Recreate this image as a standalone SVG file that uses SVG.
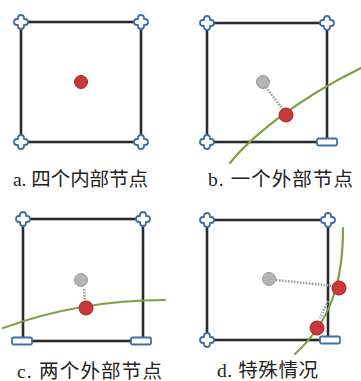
<svg xmlns="http://www.w3.org/2000/svg" width="361" height="381" viewBox="0 0 361 381">
<style>
.box{fill:none;stroke:#2b2b2b;stroke-width:2.6}
.cross{fill:#fff;stroke:#3f6fa6;stroke-width:1.8;stroke-linejoin:round}
.flat{fill:#fff;stroke:#3f6fa6;stroke-width:1.8}
.curve{fill:none;stroke:#7f9f45;stroke-width:2.2;stroke-linecap:round}
.dots{fill:none;stroke:#a0a0a0;stroke-width:2.6;stroke-dasharray:1.6 1.4}
.red{fill:#c8383c;stroke:#a02428;stroke-width:1}
.gray{fill:#b4b4b4;stroke:#9a9a9a;stroke-width:1}
.lbl{font-family:"Liberation Serif","Noto Sans CJK SC",serif;font-size:19.5px;fill:#222}
</style>
<defs>
<path id="cr" class="cross" d="M-3,-3 L-3,-4 A3,3 0 0 1 3,-4 L3,-3 L4,-3 A3,3 0 0 1 4,3 L3,3 L3,4 A3,3 0 0 1 -3,4 L-3,3 L-4,3 A3,3 0 0 1 -4,-3 Z"/>
<rect id="fl" class="flat" x="-10" y="-3.5" width="20" height="7" rx="1.5"/>
</defs>

<g id="panel-a">
<rect class="box" x="21" y="22" width="120" height="120"/>
<use href="#cr" x="21" y="22"/><use href="#cr" x="141" y="22"/>
<use href="#cr" x="21" y="142"/><use href="#cr" x="141" y="142"/>
<circle class="red" cx="81" cy="82" r="6.5"/>
<text class="lbl" x="13" y="186" textLength="135" lengthAdjust="spacing">a. 四个内部节点</text>
</g>

<g id="panel-b">
<rect class="box" x="207" y="23" width="120" height="119"/>
<path class="curve" d="M230,163 C248,140 295,100 361,68"/>
<use href="#cr" x="207" y="23"/><use href="#cr" x="327" y="23"/>
<use href="#cr" x="207" y="142"/><use href="#fl" x="327" y="142"/>
<path class="dots" d="M266,87 L283,110"/>
<circle class="gray" cx="263" cy="82" r="6.5"/>
<circle class="red" cx="286" cy="115" r="7"/>
<text class="lbl" x="208" y="186" textLength="145" lengthAdjust="spacing">b. 一个外部节点</text>
</g>

<g id="panel-c">
<rect class="box" x="23" y="219" width="120" height="122"/>
<path class="curve" d="M3,328 Q80,300 165,300"/>
<use href="#cr" x="23" y="219"/><use href="#cr" x="143" y="219"/>
<use href="#fl" x="22" y="341"/><use href="#fl" x="141" y="341"/>
<path class="dots" d="M84,289 L85,301"/>
<circle class="gray" cx="81" cy="280" r="6.5"/>
<circle class="red" cx="86" cy="308" r="7"/>
<text class="lbl" x="17" y="378" textLength="145" lengthAdjust="spacing">c. 两个外部节点</text>
</g>

<g id="panel-d">
<rect class="box" x="207" y="220" width="121" height="120"/>
<path class="curve" d="M343,228 C343,280 332,320 295,354"/>
<use href="#cr" x="207" y="220"/><use href="#cr" x="328" y="220"/>
<use href="#cr" x="207" y="340"/><use href="#fl" x="330" y="340"/>
<path class="dots" d="M276,280 L333,286"/>
<path class="dots" d="M328,301 L320,318"/>
<circle class="gray" cx="269" cy="279" r="6.5"/>
<circle class="red" cx="339" cy="288" r="7"/>
<circle class="red" cx="317" cy="328" r="7"/>
<text class="lbl" x="217" y="377" textLength="101" lengthAdjust="spacing">d. 特殊情况</text>
</g>
</svg>
